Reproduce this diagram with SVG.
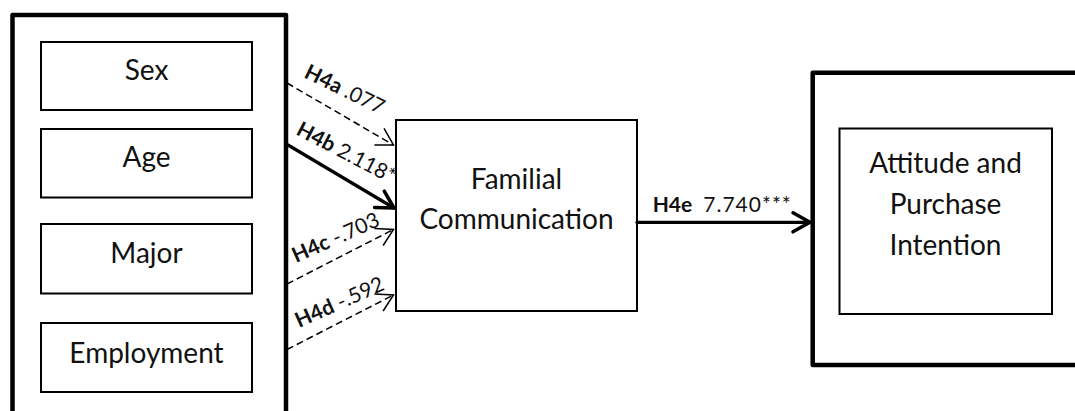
<svg xmlns="http://www.w3.org/2000/svg" width="1075" height="411" viewBox="0 0 1075 411">
  <style>
    .frame { fill: none; stroke: #000; stroke-width: 4.5; stroke-linejoin: round; }
    .box { fill: #fff; stroke: #000; stroke-width: 2; }
    .node { font-family: Lato, "Liberation Sans", sans-serif; font-size: 28px; fill: #111; text-anchor: middle; }
    .lbl { font-family: Lato, "Liberation Sans", sans-serif; font-size: 21px; fill: #111; }
    .lbl .b { font-weight: bold; }
    .dash { stroke: #000; stroke-width: 1.5; stroke-dasharray: 7 4; fill: none; marker-end: url(#open); }
    .solid { stroke: #000; stroke-width: 3.2; fill: none; stroke-linecap: round; marker-end: url(#bold); }
  </style>
  <defs>
    <marker id="open" markerUnits="userSpaceOnUse" viewBox="-22 -12 26 24" markerWidth="26" markerHeight="24" refX="0" refY="0" orient="auto" overflow="visible">
      <path d="M-16.5,-9.5 L0,0 L-16.5,9.5" fill="none" stroke="#000" stroke-width="1.5" stroke-dasharray="none"/>
    </marker>
    <marker id="bold" markerUnits="userSpaceOnUse" viewBox="-22 -12 26 24" markerWidth="26" markerHeight="24" refX="0" refY="0" orient="auto" overflow="visible">
      <path d="M-17,-9.5 L0,0 L-17,9.5" fill="none" stroke="#000" stroke-width="3.5" stroke-linecap="round" stroke-linejoin="round"/>
    </marker>
  </defs>

  <rect width="1075" height="411" fill="#fff"/>

  <!-- demographic block -->
  <g id="demographics">
    <path class="frame" d="M12.5,411 V15 H286 V411"/>
    <g id="sex">
      <rect class="box" x="41" y="42" width="211" height="68"/>
      <text class="node" x="146.5" y="80">Sex</text>
    </g>
    <g id="age">
      <rect class="box" x="41" y="129" width="211" height="68.5"/>
      <text class="node" x="146.5" y="166.5">Age</text>
    </g>
    <g id="major">
      <rect class="box" x="41" y="224" width="211" height="69.5"/>
      <text class="node" x="146.5" y="263">Major</text>
    </g>
    <g id="employment">
      <rect class="box" x="41" y="323" width="211" height="69"/>
      <text class="node" x="146.5" y="362.5">Employment</text>
    </g>
  </g>

  <!-- mediator -->
  <g id="familial">
    <rect class="box" x="396" y="120" width="241" height="191"/>
    <text class="node" x="516.5" y="189.3">Familial</text>
    <text class="node" x="516.5" y="229.3">Communication</text>
  </g>

  <!-- outcome block -->
  <g id="outcome">
    <path class="frame" d="M1080,72.8 H812.7 V365 H1080"/>
    <rect class="box" x="839.5" y="128.5" width="212.5" height="185.5" stroke-width="1.8"/>
    <text class="node" x="945.5" y="173.3">Attitude and</text>
    <text class="node" x="945.5" y="213.5">Purchase</text>
    <text class="node" x="945.5" y="255">Intention</text>
  </g>

  <!-- paths -->
  <g id="connectors">
    <line class="dash" x1="287" y1="83" x2="393.5" y2="145"/>
    <line class="solid" x1="288" y1="145" x2="394" y2="208"/>
    <line class="dash" x1="287" y1="284" x2="393.5" y2="229.5"/>
    <line class="dash" x1="287" y1="349.5" x2="393.5" y2="295"/>
    <line class="solid" x1="637" y1="222.3" x2="810" y2="222.3"/>
  </g>

  <!-- path coefficients -->
  <g id="labels">
    <text class="lbl" transform="translate(303,77) rotate(26)"><tspan class="b">H4a</tspan> .077</text>
    <text class="lbl" font-size="19" transform="translate(295,134) rotate(27.5)"><tspan class="b">H4b</tspan> 2.118*</text>
    <text class="lbl" font-size="20" transform="translate(296,263) rotate(-24)"><tspan class="b">H4c</tspan> -.703</text>
    <text class="lbl" transform="translate(299,328) rotate(-24)"><tspan class="b">H4d</tspan> -.592</text>
    <text class="lbl" y="211.7" font-size="23"><tspan class="b" x="652.7">H4e</tspan><tspan x="703.3" letter-spacing="1">7.740***</tspan></text>
  </g>
</svg>
